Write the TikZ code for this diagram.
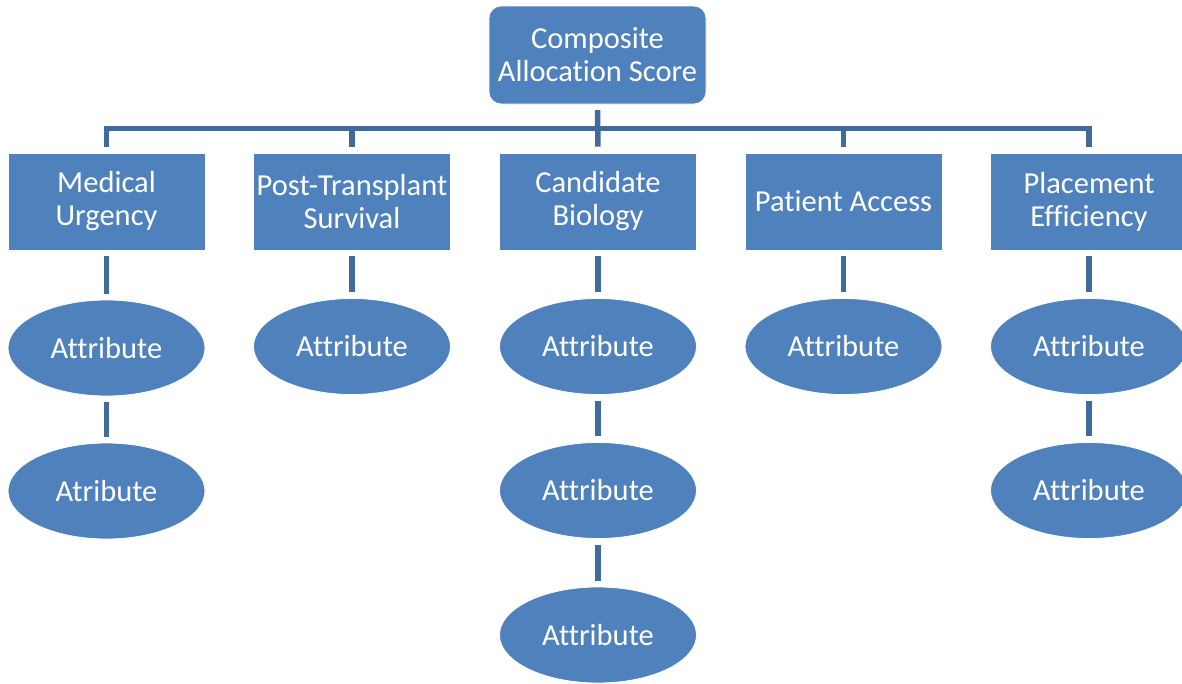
\documentclass[tikz,border=0pt]{standalone}
\usepackage{fontspec}
\setmainfont{Carlito}[Ligatures=NoCommon]
\usetikzlibrary{shapes.geometric,calc}
\definecolor{boxblue}{HTML}{4F81BD}
\definecolor{lineblue}{HTML}{3E6C9E}
\tikzset{
  base/.style={fill=boxblue, draw=white, line width=0.8pt, text=white, align=center,
    font=\fontsize{30.5}{33}\selectfont, inner sep=0pt},
  topbox/.style={base, rounded corners=12pt, minimum width=217pt, minimum height=98pt},
  catbox/.style={base, minimum width=197pt, minimum height=97pt},
  attr/.style={base, ellipse, minimum width=197pt, minimum height=96pt},
  conn/.style={draw=lineblue, line width=5.5pt, shorten <=6pt, shorten >=6pt, line join=miter}
}
\begin{document}
\begin{tikzpicture}[x=1pt,y=1pt]
\useasboundingbox (0,0) rectangle (1182,-683);
\node[topbox] (top) at (597.5,-55) {Composite\\Allocation Score};
\node[catbox] (mu) at (106.5,-201.5) {Medical\\Urgency};
\node[catbox] (pt) at (352,-201.5) {Post-Transplant\\Survival};
\node[catbox] (cb) at (598,-201.5) {Candidate\\Biology};
\node[catbox] (pa) at (843.5,-201.5) {Patient Access};
\node[catbox] (pe) at (1089,-201.5) {Placement\\Efficiency};
\node[attr] (mu1) at (106.5,-348) {Attribute};
\node[attr] (mu2) at (106.5,-491) {Atribute};
\node[attr] (pt1) at (352,-346.5) {Attribute};
\node[attr] (cb1) at (598,-346.5) {Attribute};
\node[attr] (cb2) at (598,-490.5) {Attribute};
\node[attr] (cb3) at (598,-635) {Attribute};
\node[attr] (pa1) at (843.5,-346.5) {Attribute};
\node[attr] (pe1) at (1089,-346.5) {Attribute};
\node[attr] (pe2) at (1089,-490.5) {Attribute};
% tree connectors
\foreach \c in {mu,pt,pa,pe}{
  \draw[conn] (top.south) |- ($(top.south)!0.5!(\c.north)$) -| (\c.north);
}
\draw[conn] (top.south) -- (cb.north);
% attribute connectors
\draw[conn] (mu.south) -- (mu1.north);
\draw[conn] (mu1.south) -- (mu2.north);
\draw[conn] (pt.south) -- (pt1.north);
\draw[conn] (cb.south) -- (cb1.north);
\draw[conn] (cb1.south) -- (cb2.north);
\draw[conn] (cb2.south) -- (cb3.north);
\draw[conn] (pa.south) -- (pa1.north);
\draw[conn] (pe.south) -- (pe1.north);
\draw[conn] (pe1.south) -- (pe2.north);
\end{tikzpicture}
\end{document}
